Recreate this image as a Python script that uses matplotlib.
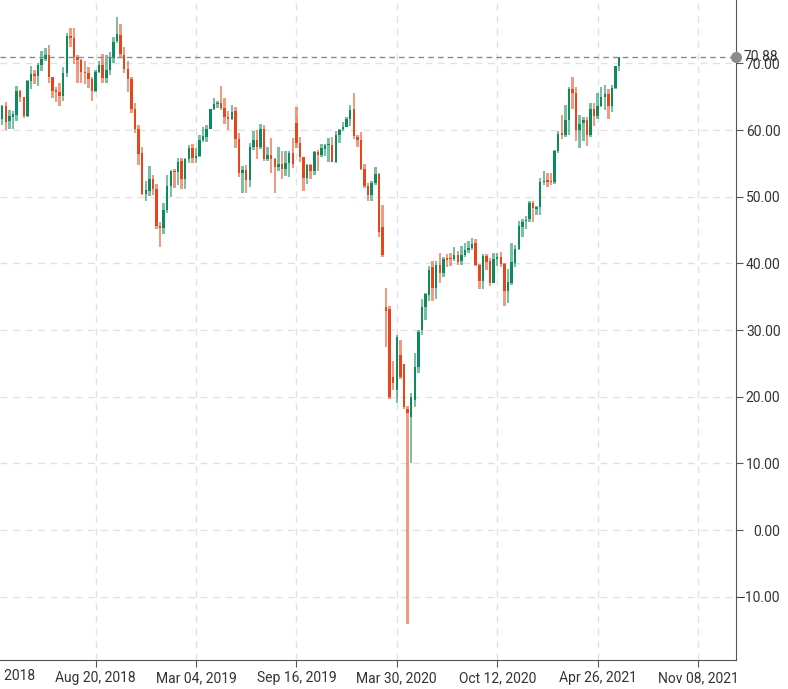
import matplotlib
matplotlib.use("Agg")
import matplotlib.pyplot as plt
import matplotlib.dates as mdates
import numpy as np
import pandas as pd
from matplotlib.transforms import blended_transform_factory
from matplotlib.ticker import FuncFormatter

# ---------------- data (weekly OHLC, week starting Monday) ----------------
first_week = "2018-02-12"

opens = [
    59.3, 61.7, 63.6, 61.3, 62.0, 62.3, 65.9, 64.9, 62.1, 67.4, 68.4, 68.1, 69.7, 70.7, 71.3, 67.9,
    65.8, 65.7, 65.1, 68.6, 74.1, 73.8, 71.0, 70.5, 68.7, 68.5, 67.6, 65.9, 68.7, 69.8, 67.8, 69.0,
    70.8, 73.3, 74.3, 71.3, 69.1, 67.6, 63.1, 60.2, 56.5, 50.4, 50.9, 52.6, 51.2, 45.6, 45.3,
    48.0, 51.6, 53.8, 53.7, 55.3, 52.7, 55.6, 57.3, 55.8, 56.1, 58.5, 59.0, 60.1, 63.1, 63.9, 64.0,
    63.3, 61.9, 61.7, 62.8, 58.6, 53.5, 54.0, 52.5, 57.4, 58.5, 57.5, 60.2, 55.6, 56.2, 55.7, 54.5,
    54.9, 54.2, 55.1, 56.5, 61.0, 58.1, 55.9, 52.8, 54.7, 53.8, 56.7, 56.2, 57.2, 57.7, 57.8, 55.2,
    59.2, 60.1, 60.4, 61.7,
    63.1, 59.0, 58.5, 54.2, 51.6, 50.3, 52.1, 53.4, 45.5, 33.4, 33.2, 23.0, 21.0, 26.3, 24.9, 18.2,
    17.0, 19.5, 24.5, 30.0, 33.5, 35.3, 39.4, 36.3, 39.8, 38.5, 40.7, 40.6, 40.6, 41.3, 40.3, 41.2,
    42.0, 42.3, 43.0, 39.8, 37.3, 41.1, 40.3, 37.1, 40.6, 40.9, 39.9, 35.8, 37.1, 40.1, 42.2, 45.5,
    46.3, 46.6, 49.1, 48.2,
    48.5, 52.2, 52.4, 52.3, 52.2, 56.9, 59.5, 59.2, 61.5, 66.1, 65.6, 60.0, 61.0, 61.5, 59.3, 63.1,
    62.1, 63.6, 64.9, 65.4, 63.6, 66.3, 69.6,
]
highs = [
    61.9, 63.7, 64.2, 63.0, 62.9, 66.6, 66.0, 65.0, 67.5, 69.6, 69.0, 70.0, 71.9, 72.3, 72.8, 68.0,
    66.4, 67.0, 69.5, 74.5, 75.3, 75.3, 71.2, 70.6, 70.4, 69.5, 67.9, 69.0, 70.4, 71.4, 71.2, 71.7,
    73.9, 76.9, 75.9, 72.4, 70.3, 68.0, 64.0, 60.7, 57.4, 52.4, 54.6, 53.3, 51.9, 46.2, 49.0,
    53.3, 54.0, 54.1, 55.8, 55.8, 55.8, 57.8, 57.9, 57.3, 59.2, 60.4, 60.7, 63.2, 64.8, 64.3, 66.6,
    64.8, 62.8, 63.7, 63.5, 59.6, 54.6, 54.8, 58.0, 59.9, 60.0, 60.9, 60.7, 57.5, 58.8, 55.8, 57.5,
    56.8, 56.9, 56.9, 58.8, 63.4, 59.0, 56.0, 54.9, 54.9, 56.9, 57.0, 57.9, 57.9, 58.8, 58.9, 59.9,
    60.1, 61.2, 61.9, 63.8,
    65.6, 59.3, 59.7, 54.9, 52.0, 52.4, 54.5, 53.6, 48.7, 36.3, 33.6, 25.3, 29.3, 28.5, 24.9, 18.6,
    20.6, 26.6, 30.0, 34.7, 35.5, 39.6, 40.4, 40.4, 41.6, 41.0, 41.4, 41.6, 42.5, 41.9, 42.6, 43.1,
    43.4, 43.8, 43.6, 39.9, 41.4, 41.4, 40.8, 41.6, 41.5, 41.7, 40.0, 39.1, 43.0, 42.7, 46.3, 46.7,
    47.1, 49.3, 49.3, 48.6,
    52.8, 53.9, 53.5, 53.5, 57.0, 59.8, 62.3, 63.8, 66.4, 68.0, 66.4, 62.3, 62.0, 61.9, 64.0, 64.0,
    65.5, 66.5, 66.7, 66.2, 66.8, 69.4, 70.9,
]
lows = [
    58.1, 60.7, 60.0, 60.2, 60.1, 61.4, 64.2, 61.8, 62.0, 66.1, 66.9, 66.6, 68.8, 70.3, 67.0, 64.8,
    64.2, 63.6, 64.3, 68.0, 72.4, 69.9, 67.0, 67.0, 66.9, 66.3, 64.4, 65.7, 68.5, 67.0, 67.1, 68.3,
    70.1, 73.1, 70.8, 68.5, 65.7, 62.6, 59.6, 54.8, 50.2, 49.4, 50.1, 50.3, 45.1, 42.4, 44.4,
    47.6, 49.9, 51.3, 51.7, 51.2, 51.2, 55.1, 55.0, 55.1, 55.9, 58.2, 58.2, 60.1, 63.0, 63.3, 63.0,
    60.9, 60.0, 61.5, 57.3, 53.0, 50.6, 50.6, 51.4, 57.0, 55.6, 57.2, 55.3, 55.3, 53.6, 50.5, 53.9,
    52.6, 53.1, 53.0, 54.3, 57.3, 55.2, 50.9, 51.9, 52.6, 53.3, 53.9, 55.9, 56.1, 55.2, 55.2, 55.0,
    58.0, 59.8, 60.4, 60.6,
    58.7, 57.4, 54.0, 51.3, 49.3, 49.4, 51.7, 44.0, 41.0, 27.4, 19.6, 21.0, 19.1, 22.6, 18.2, -14.1,
    10.1, 18.5, 23.6, 29.2, 31.5, 34.4, 34.4, 34.7, 37.1, 38.0, 39.5, 39.6, 40.3, 39.7, 39.8, 41.0,
    41.5, 42.0, 39.6, 36.1, 36.1, 39.0, 36.6, 37.1, 39.6, 39.4, 33.6, 34.0, 36.8, 39.5, 42.0, 43.9,
    45.1, 46.2, 46.2, 47.2,
    47.2, 51.8, 51.5, 51.7, 51.9, 56.6, 58.6, 59.0, 59.2, 63.1, 58.3, 57.3, 58.4, 57.6, 59.0, 60.6,
    61.6, 63.5, 63.0, 61.6, 62.7, 66.2, 68.8,
]
closes = [
    61.7, 63.55, 61.25, 62.04, 62.34, 65.88, 64.94, 62.06, 67.39, 68.38, 68.10, 69.72, 70.70, 71.28, 67.88, 65.81,
    65.74, 65.06, 68.58, 74.15, 73.80, 71.01, 70.46, 68.69, 68.49, 67.63, 65.91, 68.72, 69.80, 67.75, 68.99, 70.78,
    73.25, 74.34, 71.34, 69.12, 67.59, 63.14, 60.19, 56.46, 50.42, 50.93, 52.61, 51.20, 45.59, 45.33, 47.96,
    51.59, 53.80, 53.69, 55.26, 52.72, 55.59, 57.26, 55.80, 56.07, 58.52, 59.04, 60.14, 63.08, 63.89, 64.00, 63.30,
    61.94, 61.66, 62.76, 58.63, 53.50, 53.99, 52.51, 57.43, 58.47, 57.51, 60.21, 55.63, 56.20, 55.66, 54.50, 54.87,
    54.17, 55.10, 56.52, 54.85, 58.09, 55.91, 52.81, 54.70, 53.78, 56.66, 56.20, 57.24, 57.72, 57.77, 55.17, 59.20,
    60.07, 60.44, 61.72, 63.05,
    59.04, 58.54, 54.19, 51.56, 50.32, 52.05, 53.38, 44.76, 41.28, 32.90, 20.00, 22.10, 29.00, 23.00, 18.50, 17.50,
    20.00, 24.50, 29.70, 33.50, 35.40, 39.00, 36.26, 39.75, 38.49, 40.65, 40.55, 40.59, 41.29, 40.27, 41.22, 42.01,
    42.34, 42.97, 39.77, 37.33, 41.11, 40.25, 37.05, 40.60, 40.88, 39.85, 35.79, 37.14, 40.13, 42.15, 45.53, 46.26,
    46.57, 49.10, 48.23, 48.52,
    52.24, 52.36, 52.27, 52.20, 56.85, 59.47, 59.24, 61.50, 66.09, 65.61, 60.00, 60.97, 61.45, 59.32, 63.13, 62.14,
    63.58, 64.90, 65.37, 63.58, 66.32, 69.62, 70.88,
]
last_price = 70.88
x_tick_dates = ["2018-02-05", "2018-08-20", "2019-03-04", "2019-09-16", "2020-03-30",
                "2020-10-12", "2021-04-26", "2021-11-08"]
y_ticks = [-10, 0, 10, 20, 30, 40, 50, 60, 70]

# ---------------- styling ----------------
GREEN = "#0d8a5e"
RED = "#e8461a"
GRID = "#e2e2e2"
TEXT = "#333333"
AXIS = "#555555"
plt.rcParams["font.family"] = ["Liberation Sans Narrow", "Roboto", "DejaVu Sans"]

fig = plt.figure(figsize=(7.88, 6.89), dpi=100)
ax = fig.add_axes([0, 29 / 689, 736 / 788, 660 / 689])

dates = pd.date_range(first_week, periods=len(closes), freq="7D")
x = mdates.date2num(dates.to_pydatetime())
o = np.array(opens); h = np.array(highs); l = np.array(lows); c = np.array(closes)
up = c >= o
cols = np.where(up, GREEN, RED)
w = 4.8
ax.bar(x, h - l, bottom=l, width=w, color=cols, alpha=0.55, linewidth=0, zorder=3)
body_lo = np.minimum(o, c)
body_h = np.maximum(np.abs(c - o), 0.2)
ax.bar(x, body_h, bottom=body_lo, width=w, color=cols, linewidth=0, zorder=4)

# grid
ax.grid(True, color=GRID, linestyle=(0, (5, 4)), linewidth=1, zorder=0)
ax.set_axisbelow(True)

# spines
for s in ["left", "top"]:
    ax.spines[s].set_visible(False)
ax.spines["right"].set_color(AXIS)
ax.spines["bottom"].set_color(AXIS)

# y axis on right
ax.yaxis.tick_right()
ax.set_yticks(y_ticks)
ax.yaxis.set_major_formatter(FuncFormatter(lambda v, p: f"{v:.2f}".replace("-", "\u2212")))
ax.tick_params(axis="y", length=5, color=AXIS, labelsize=10, labelcolor=TEXT, pad=27)
for t in ax.yaxis.get_major_ticks():
    t.label2.set_horizontalalignment("right")

# x axis
xt = [mdates.date2num(pd.Timestamp(d)) for d in x_tick_dates]
ax.set_xticks(xt[1:])
ax.set_xticklabels([pd.Timestamp(d).strftime("%b %d, %Y") for d in x_tick_dates[1:]])
ax.tick_params(axis="x", length=5, color=AXIS, labelsize=10, labelcolor=TEXT, pad=3)

# axes limits (after ticks, so that ticks do not expand them)
ax.set_xlim(mdates.date2num(pd.Timestamp("2018-02-14 14:00")), mdates.date2num(pd.Timestamp("2022-01-21")))
ax.set_ylim(-19.5, 79.5)

# first (clipped) date label, lying left of the plotted range
ax.annotate(pd.Timestamp(x_tick_dates[0]).strftime("%b %d, %Y"),
            xy=(xt[0], 0), xycoords=blended_transform_factory(ax.transData, ax.transAxes),
            xytext=(0, -5.8), textcoords="offset points", ha="center", va="top",
            fontsize=10, color=TEXT, annotation_clip=False)

# last price line, marker and label
bt = blended_transform_factory(ax.transAxes, ax.transData)
ax.axhline(last_price, color="#8a8a8a", linestyle=(0, (4, 3)), linewidth=1, zorder=5)
ax.plot([1], [last_price], "o", color="#8c8c8c", ms=7, transform=bt, clip_on=False, zorder=6)
ax.annotate(f"{last_price:.2f}", xy=(1, last_price), xycoords=bt, xytext=(27 + 5 * 0.72, 0),
            textcoords="offset points", ha="right", va="center", fontsize=10, color=TEXT,
            annotation_clip=False)

fig.savefig("out.png", dpi=100)
